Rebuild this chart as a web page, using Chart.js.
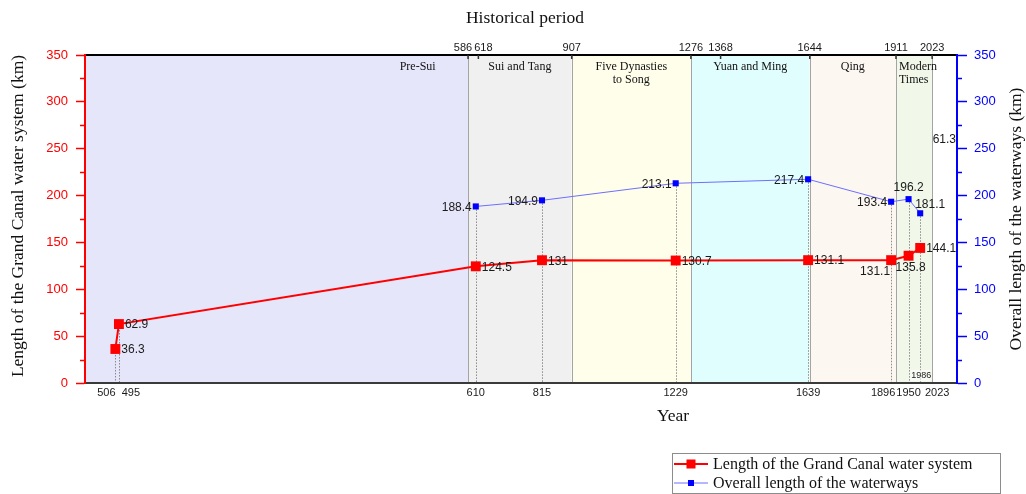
<!DOCTYPE html>
<html>
<head>
<meta charset="utf-8">
<script src="https://cdn.jsdelivr.net/npm/chart.js@4.4.0/dist/chart.umd.min.js"></script>
<style>
  html, body { margin: 0; padding: 0; background: #fff; }
  #wrap { width: 1026px; height: 494px; position: relative; }
</style>
</head>
<body>
<div id="wrap"><canvas id="chart"></canvas></div>
<script>
// Years are signed: negative values are BC.
const canalYears    = [-506, -495, 610, 815, 1229, 1639, 1896, 1950, 1986];
const canalLengths  = [36.3, 62.9, 124.5, 131, 130.7, 131.1, 131.1, 135.8, 144.1];
const waterwayYears   = [610, 815, 1229, 1639, 1896, 1950, 1986];
const waterwayLengths = [188.4, 194.9, 213.1, 217.4, 193.4, 196.2, 181.1];

// Bottom axis: years marked, and their printed labels
const yearTicks      = [-506, -495, 610, 815, 1229, 1639, 1896, 1950, 2023];
const yearTickLabels = ['506', '495', '610', '815', '1229', '1639', '1896', '1950', '2023'];
const extraYearNote  = 1986;

// Top axis: period boundaries
const periodTicks = [586, 618, 907, 1276, 1368, 1644, 1911, 2023];

// Historical periods
const periodNames = ['Pre-Sui', 'Sui and Tang', 'Five Dynasties\nto Song', 'Yuan and Ming', 'Qing', 'Modern\nTimes'];
const periodStart = [-600, 586, 907, 1276, 1644, 1911];
const periodEnd   = [586, 907, 1276, 1644, 1911, 2023];
const periodEdges = [586, 907, 1276, 1644, 1911, 2023];

// Stray value printed at the right edge of the plot
const cornerNote = '61.3';
const cornerNoteLevel = 260;

// ---- styling ----
const SANS  = '"Liberation Sans", Arial, Helvetica, sans-serif';
const SERIF = '"Liberation Serif", "Times New Roman", Times, serif';
const bandColors = ['#e6e6fa', '#f0f0f0', '#fffeea', '#e1feff', '#fcf7f1', '#f1f8e9'];
const canalLabelPlace    = ['r', 'r', 'r', 'r', 'r', 'r', 'bl', 'b', 'r'];
const waterwayLabelPlace = ['l', 'l', 'l', 'l', 'l', 't', 'tr'];
const bottomLabelNudge = { '-506': -9, '-495': 12, '1896': -8, '2023': 5 };
const topLabelNudge = { '586': -5, '618': 5 };
const periodLabelAnchor = { 'Pre-Sui': { year: 430, align: 'center' }, 'Modern\nTimes': { year: 1911, align: 'left', dx: 3 } };

function placeLabel(ctx, text, px, py, where) {
  let x = px, y = py, align = 'left';
  switch (where) {
    case 'r':  x = px + 6;  y = py + 1;  align = 'left';   break;
    case 'l':  x = px - 4;  y = py + 1;  align = 'right';  break;
    case 'bl': x = px - 1;  y = py + 12; align = 'right';  break;
    case 'b':  x = px + 2;  y = py + 12; align = 'center'; break;
    case 't':  x = px;      y = py - 11; align = 'center'; break;
    case 'tr': x = px + 10; y = py - 9;  align = 'center'; break;
  }
  ctx.textAlign = align;
  ctx.fillText(text, x, y);
}

const decorPlugin = {
  id: 'decor',
  beforeDraw(chart) {
    const { ctx, chartArea: a, scales } = chart;
    const xScale = scales.x, leftScale = scales.y, rightScale = scales.y1;
    ctx.save();
    // period bands
    periodStart.forEach((s, i) => {
      const x0 = Math.max(a.left, xScale.getPixelForValue(s));
      const x1 = xScale.getPixelForValue(periodEnd[i]);
      ctx.fillStyle = bandColors[i];
      ctx.fillRect(x0, a.top, x1 - x0, a.bottom - a.top);
    });
    // period boundaries
    ctx.strokeStyle = '#a4a4a4';
    ctx.lineWidth = 1;
    periodEdges.forEach(v => {
      const x = Math.round(xScale.getPixelForValue(v)) + 0.5;
      ctx.beginPath(); ctx.moveTo(x, a.top); ctx.lineTo(x, a.bottom); ctx.stroke();
    });
    // dotted drop lines from the highest point of each year
    const tops = {};
    canalYears.forEach((year, i) => {
      const p = leftScale.getPixelForValue(canalLengths[i]);
      tops[year] = Math.min(tops[year] ?? Infinity, p);
    });
    waterwayYears.forEach((year, i) => {
      const p = rightScale.getPixelForValue(waterwayLengths[i]);
      tops[year] = Math.min(tops[year] ?? Infinity, p);
    });
    ctx.strokeStyle = '#8a8a8a';
    ctx.setLineDash([1.5, 1.5]);
    Object.keys(tops).forEach(k => {
      const x = Math.round(xScale.getPixelForValue(+k)) + 0.5;
      ctx.beginPath(); ctx.moveTo(x, tops[k]); ctx.lineTo(x, a.bottom); ctx.stroke();
    });
    ctx.setLineDash([]);
    ctx.restore();
  },
  afterDraw(chart) {
    const { ctx, chartArea: a, scales } = chart;
    const xScale = scales.x, topScale = scales.x2, leftScale = scales.y, rightScale = scales.y1;
    ctx.save();

    // minor ticks on both value axes
    ctx.lineWidth = 1.5;
    for (let v = 25; v < 350; v += 50) {
      const py = Math.round(leftScale.getPixelForValue(v)) + 0.5;
      ctx.strokeStyle = '#ff0000';
      ctx.beginPath(); ctx.moveTo(a.left - 5, py); ctx.lineTo(a.left, py); ctx.stroke();
      ctx.strokeStyle = '#0000ff';
      ctx.beginPath(); ctx.moveTo(a.right, py); ctx.lineTo(a.right + 5, py); ctx.stroke();
    }

    // top axis ticks (pointing into the plot) and labels
    ctx.strokeStyle = '#333';
    ctx.lineWidth = 1.5;
    ctx.fillStyle = '#1a1a1a';
    ctx.font = '11px ' + SANS;
    ctx.textAlign = 'center';
    ctx.textBaseline = 'middle';
    periodTicks.forEach(v => {
      const px = topScale.getPixelForValue(v);
      ctx.beginPath(); ctx.moveTo(px, a.top); ctx.lineTo(px, a.top + 4); ctx.stroke();
      ctx.fillText(String(v), px + (topLabelNudge[v] || 0), a.top - 7);
    });

    // bottom axis labels
    yearTicks.forEach((v, i) => {
      const px = xScale.getPixelForValue(v);
      ctx.fillText(yearTickLabels[i], px + (bottomLabelNudge[v] || 0), a.bottom + 10);
    });
    // small year note inside the plot
    {
      const px = xScale.getPixelForValue(extraYearNote);
      ctx.font = '9px ' + SANS;
      ctx.fillStyle = 'rgba(255,255,255,0.6)';
      ctx.fillRect(px - 10, a.bottom - 13, 21, 11);
      ctx.fillStyle = '#1a1a1a';
      ctx.fillText(String(extraYearNote), px + 1, a.bottom - 7);
    }

    // period names
    ctx.font = '12px ' + SERIF;
    ctx.fillStyle = '#111';
    periodNames.forEach((name, i) => {
      const anchor = periodLabelAnchor[name];
      let px, align = 'center';
      if (anchor) {
        px = xScale.getPixelForValue(anchor.year) + (anchor.dx || 0);
        align = anchor.align;
      } else {
        px = xScale.getPixelForValue((periodStart[i] + periodEnd[i]) / 2);
      }
      ctx.textAlign = align;
      name.split('\n').forEach((line, j) => ctx.fillText(line, px, a.top + 12 + j * 13));
    });

    // value labels
    ctx.font = '12px ' + SANS;
    ctx.fillStyle = '#1a1a1a';
    ctx.textBaseline = 'middle';
    canalYears.forEach((v, i) => {
      placeLabel(ctx, String(canalLengths[i]), xScale.getPixelForValue(v), leftScale.getPixelForValue(canalLengths[i]), canalLabelPlace[i]);
    });
    waterwayYears.forEach((v, i) => {
      placeLabel(ctx, String(waterwayLengths[i]), xScale.getPixelForValue(v), rightScale.getPixelForValue(waterwayLengths[i]), waterwayLabelPlace[i]);
    });
    ctx.textAlign = 'right';
    ctx.fillText(cornerNote, a.right - 1, rightScale.getPixelForValue(cornerNoteLevel));

    // titles
    ctx.fillStyle = '#111';
    ctx.font = '17.5px ' + SERIF;
    ctx.textAlign = 'center';
    ctx.fillText('Historical period', (a.left + a.right) / 2 + 4, 18);
    ctx.fillText('Year', (a.left + a.right) / 2 + 152, 416);
    const midY = (a.top + a.bottom) / 2;
    ctx.save();
    ctx.translate(18, midY - 3);
    ctx.rotate(-Math.PI / 2);
    ctx.fillText('Length of the Grand Canal water system (km)', 0, 0);
    ctx.restore();
    ctx.save();
    ctx.translate(1016, midY);
    ctx.rotate(-Math.PI / 2);
    ctx.fillText('Overall length of the waterways (km)', 0, 0);
    ctx.restore();

    // legend
    const lx = 672, ly = 453, lw = 328, lh = 40;
    ctx.fillStyle = '#fff';
    ctx.fillRect(lx, ly, lw, lh);
    ctx.strokeStyle = '#8c8c8c';
    ctx.lineWidth = 1;
    ctx.strokeRect(lx + 0.5, ly + 0.5, lw, lh);
    const marks = [9, 6];
    chart.data.datasets.forEach((ds, i) => {
      const rowY = ly + 11 + i * 19;
      ctx.strokeStyle = ds.borderColor;
      ctx.lineWidth = ds.borderWidth;
      ctx.beginPath(); ctx.moveTo(lx + 2, rowY); ctx.lineTo(lx + 36, rowY); ctx.stroke();
      ctx.fillStyle = ds.backgroundColor;
      const m = marks[i];
      ctx.fillRect(lx + 19 - m / 2, rowY - m / 2, m, m);
      ctx.fillStyle = '#111';
      ctx.font = '16px ' + SERIF;
      ctx.textAlign = 'left';
      ctx.fillText(ds.label, lx + 41, rowY + 1);
    });
    ctx.restore();
  }
};

const ctx = document.getElementById('chart');
new Chart(ctx, {
  type: 'line',
  data: {
    datasets: [
      {
        label: 'Length of the Grand Canal water system',
        data: canalYears.map((x, i) => ({ x, y: canalLengths[i] })),
        xAxisID: 'x', yAxisID: 'y',
        borderColor: '#ff0000', backgroundColor: '#ff0000',
        borderWidth: 2, pointStyle: 'rect', pointRadius: 7, pointBorderWidth: 0,
        pointHoverRadius: 7, tension: 0
      },
      {
        label: 'Overall length of the waterways',
        data: waterwayYears.map((x, i) => ({ x, y: waterwayLengths[i] })),
        xAxisID: 'x', yAxisID: 'y1',
        borderColor: '#6e6eff', backgroundColor: '#0000ff',
        borderWidth: 1, pointStyle: 'rect', pointRadius: 4.3, pointBorderWidth: 0,
        pointHoverRadius: 4.3, tension: 0
      }
    ]
  },
  options: {
    responsive: true,
    maintainAspectRatio: false,
    animation: false,
    devicePixelRatio: 1,
    layout: { padding: 0 },
    plugins: { legend: { display: false }, tooltip: { enabled: false } },
    scales: {
      x: {
        type: 'linear', position: 'bottom', min: -600, max: 2100,
        grid: { display: false },
        border: { display: true, color: '#3a3a3a', width: 2 },
        ticks: { display: false },
        afterFit(s) { s.height = 111; }
      },
      x2: {
        type: 'linear', position: 'top', min: -600, max: 2100, display: true,
        grid: { display: false },
        border: { display: true, color: '#000', width: 2 },
        ticks: { display: false },
        afterFit(s) { s.height = 55; }
      },
      y: {
        position: 'left', min: 0, max: 350,
        ticks: { stepSize: 50, color: '#ff0000', padding: 8, font: { size: 13, family: SANS } },
        grid: { drawOnChartArea: false, tickLength: 9, tickColor: '#ff0000', tickWidth: 1.5 },
        border: { color: '#ff0000', width: 2 },
        afterFit(s) { s.width = 85; }
      },
      y1: {
        position: 'right', min: 0, max: 350,
        ticks: { stepSize: 50, color: '#0000ff', padding: 7, font: { size: 13, family: SANS } },
        grid: { drawOnChartArea: false, tickLength: 10, tickColor: '#0000ff', tickWidth: 1.5 },
        border: { color: '#0000ff', width: 2 },
        afterFit(s) { s.width = 69; }
      }
    }
  },
  plugins: [decorPlugin]
});
</script>
</body>
</html>
